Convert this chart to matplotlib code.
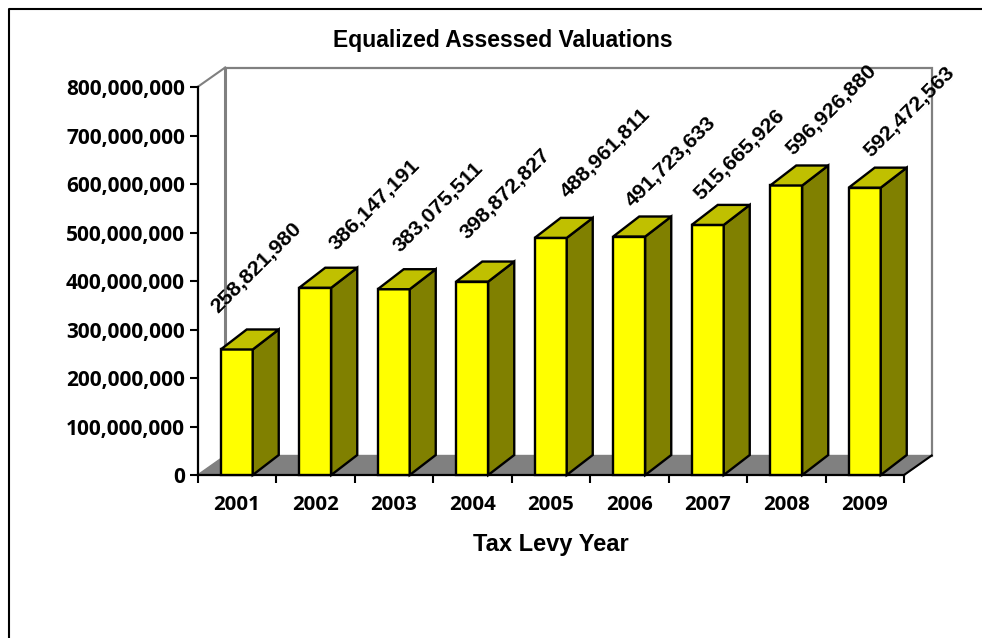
import matplotlib
matplotlib.use("Agg")
import matplotlib.pyplot as plt
from matplotlib.patches import Polygon
from matplotlib.lines import Line2D

years = ["2001", "2002", "2003", "2004", "2005", "2006", "2007", "2008", "2009"]
values = [258821980, 386147191, 383075511, 398872827, 488961811,
          491723633, 515665926, 596926880, 592472563]
yticks = [0, 100000000, 200000000, 300000000, 400000000,
          500000000, 600000000, 700000000, 800000000]
# data labels were dragged by hand in the original, offsets from bar top in pixels
label_dx = [19.75, 59.25, 44.25, 33.25, 54.25, 41.25, 31.75, 45.25, 44.75]
label_dy = [82, 82.7, 81.7, 88, 84.4, 75, 69.9, 75.5, 76.2]

W, H = 982, 638

fig = plt.figure(figsize=(W / 100, H / 100), dpi=100)
ax = fig.add_axes([197.5 / W, 1 - 475 / H, 706.5 / W, 388 / H])
ax.set_xlim(0, 9)
ax.set_ylim(0, 800000000)

# 3d offsets, pixels turned into data units
px_x = 9 / 706.5
px_y = 800000000 / 388
wall_dx = 27.7 * px_x
wall_dy = 19.5 * px_y
bar_dx = 26 * px_x
bar_dy = 20 * px_y
bar_w = 32 * px_x

top = yticks[-1]
# floor and back wall
ax.add_patch(Polygon([(0, 0), (wall_dx, wall_dy), (9 + wall_dx, wall_dy), (9, 0)],
                     fc="#808080", ec="#808080", lw=1, clip_on=False, zorder=1))
ax.plot([0, wall_dx], [top, top + wall_dy], color="#808080", lw=1.5, clip_on=False, zorder=1)
ax.plot([wall_dx, wall_dx], [top + wall_dy, wall_dy], color="#808080", lw=2.2,
        clip_on=False, zorder=1)
ax.plot([wall_dx, 9 + wall_dx, 9 + wall_dx], [top + wall_dy, top + wall_dy, wall_dy],
        color="#808080", lw=1.6, clip_on=False, zorder=1, solid_joinstyle="miter")
ax.plot([9, 9 + wall_dx], [0, wall_dy], color="black", lw=1.5, clip_on=False, zorder=1)

for i, v in enumerate(values):
    x0 = i + 0.5 - bar_w / 2
    x1 = x0 + bar_w
    ax.add_patch(Polygon([(x0, 0), (x1, 0), (x1, v), (x0, v)],
                         fc="#FFFF00", ec="black", lw=1.7, clip_on=False, zorder=3))
    ax.add_patch(Polygon([(x1, 0), (x1 + bar_dx, bar_dy), (x1 + bar_dx, v + bar_dy), (x1, v)],
                         fc="#808000", ec="black", lw=1.7, clip_on=False, zorder=3))
    ax.add_patch(Polygon([(x0, v), (x1, v), (x1 + bar_dx, v + bar_dy), (x0 + bar_dx, v + bar_dy)],
                         fc="#C0C000", ec="black", lw=1.7, clip_on=False, zorder=3))
    ax.annotate(f"{v:,}", (i + 0.5, v), xytext=(label_dx[i], label_dy[i]),
                textcoords="offset pixels", rotation=45, rotation_mode="anchor",
                ha="center", va="center", family="Liberation Sans", fontweight="bold",
                fontsize=15.4, color="black", zorder=5, annotation_clip=False)

for s in ["top", "right"]:
    ax.spines[s].set_visible(False)
ax.spines["left"].set_linewidth(1.6)
ax.spines["bottom"].set_linewidth(1.6)
ax.patch.set_visible(False)

ax.set_yticks(yticks)
ax.set_yticklabels([f"{t:,}" for t in yticks], family="Open Sans", fontweight="bold", fontsize=15)
ax.set_xticks(range(10))
ax.set_xticklabels([""] * 10)
ax.set_xticks([i + 0.5 for i in range(9)], minor=True)
ax.set_xticklabels(years, minor=True, family="Open Sans", fontweight="bold", fontsize=14.7)
ax.tick_params(axis="x", which="minor", length=0, pad=14.5)
ax.tick_params(axis="both", which="major", length=6, width=1.5, direction="out")
ax.tick_params(axis="y", pad=3)

fig.text(502.5 / W, 1 - 47.5 / H, "Equalized Assessed Valuations", ha="center", va="baseline",
         family="Liberation Sans", fontweight="bold", fontsize=16.5)
fig.text(550.5 / W, 1 - 550.5 / H, "Tax Levy Year", ha="center", va="baseline",
         family="Liberation Sans", fontweight="bold", fontsize=17)

# outer frame only shows on the top and left
fig.add_artist(Line2D([8.5 / W, 8.5 / W, 1], [0, 1 - 8.5 / H, 1 - 8.5 / H], color="black", lw=1.5))

fig.savefig("out.png", dpi=100)
